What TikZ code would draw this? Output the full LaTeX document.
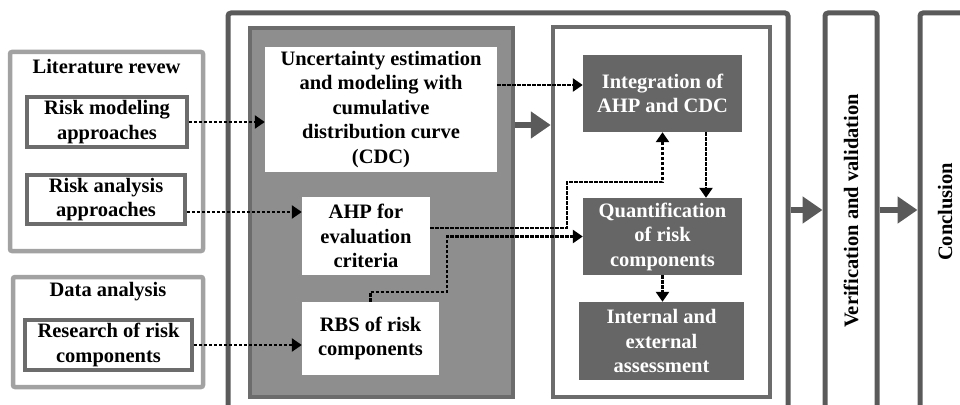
\documentclass[tikz,border=0pt]{standalone}
\usepackage{fontspec}
\setmainfont{Liberation Serif}
\usepackage{xcolor,tikz}
\usetikzlibrary{arrows.meta,positioning,calc}
\definecolor{frame}{HTML}{5A5A5A}
\definecolor{pale}{HTML}{A2A2A2}
\definecolor{edge}{HTML}{6C6C6C}
\definecolor{panel}{HTML}{8E8E8E}
\definecolor{slate}{HTML}{666666}
\tikzset{txt/.style={font=\fontsize{20.5}{24.5}\selectfont\bfseries,align=center,inner sep=0pt},
  group/.style={draw=pale,line width=4.5pt,rounded corners=2pt},
  box/.style={txt,draw=edge,line width=3.5pt,fill=white},
  plain/.style={txt,fill=white},
  dark/.style={txt,fill=slate,text=white},
  stage/.style={draw=frame,line width=5pt,rounded corners=3pt},
  dasharrow/.style={-{Triangle[length=10pt,width=13pt]},line width=2.6pt,dash pattern=on 3.5pt off 1.5pt},
  bigarrow/.style={-{Triangle[length=20pt,width=26pt]},line width=6pt,draw=frame,fill=frame}}
\begin{document}
\begin{tikzpicture}[x=1pt,y=-1pt]
\useasboundingbox (0,0) rectangle (960,404);
\node[group,minimum width=193,minimum height=199] (lit) at (106.5,151.5) {};
\node[txt] (littitle) at (106.5,67) {Literature revew};
\node[box,minimum width=160,minimum height=50] (riskmod) at (107,122) {Risk modeling\\approaches};
\node[box,minimum width=158,minimum height=49] (riskana) at (106,199.5) {Risk analysis\\approaches};
\node[group,minimum width=190,minimum height=110] (data) at (108,332) {};
\node[txt] (datatitle) at (108,292) {Data analysis};
\node[box,minimum width=167,minimum height=50] (research) at (108.5,345) {Research of risk\\components};

\node[stage,minimum width=560,minimum height=396] (study) at (508,211) {};
\node[draw=edge,fill=panel,line width=4.5pt,minimum width=263,minimum height=369] (panel) at (381.5,212.5) {};
\node[plain,minimum width=232,minimum height=125] (uncert) at (381,109.5) {Uncertainty estimation\\and modeling with\\cumulative\\distribution curve\\(CDC)};
\node[plain,minimum width=128,minimum height=78] (ahp) at (366,236) {AHP for\\evaluation\\criteria};
\node[plain,minimum width=137,minimum height=73] (rbs) at (370.5,338.5) {RBS of risk\\components};
\node[draw=edge,fill=white,line width=4.5pt,minimum width=217,minimum height=370] (result) at (661.5,212) {};
\node[dark,minimum width=159,minimum height=77] (integ) at (662.5,93.5) {Integration of\\AHP and CDC};
\node[dark,minimum width=159,minimum height=77] (quant) at (662.5,236.5) {Quantification\\of risk\\components};
\node[dark,minimum width=165,minimum height=78] (assess) at (661.5,341) {Internal and\\external\\assessment};

\node[stage,minimum width=52,minimum height=396] (verif) at (851,211) {};
\node[txt,rotate=90] (veriftext) at (851,211) {Verification and validation};
\node[stage,minimum width=50,minimum height=396] (concl) at (945,211) {};
\node[txt,rotate=90] (concltext) at (945,212) {Conclusion};

\draw[dasharrow] (riskmod.east) -- (riskmod.east -| uncert.west);
\draw[dasharrow] (riskana.east |- 0,212) -- (ahp.west |- 0,212);
\draw[dasharrow] (research.east) -- (research.east -| rbs.west);
\draw[dasharrow] (uncert.east |- 0,85) -- (integ.west |- 0,85);
\draw[dasharrow] (ahp.east |- 0,228) -| (567,182) -| (integ.south);
\draw[dasharrow] (rbs.north) |- (447,292) |- (quant.west);
\draw[dasharrow] (integ.south -| 706,0) -- (quant.north -| 706,0);
\draw[dasharrow] (quant.south) -- (quant.south |- assess.north);

\draw[bigarrow] (panel.east |- 0,125) -- (result.west |- 0,125);
\draw[bigarrow] (study.east |- 0,210) -- (verif.west |- 0,210);
\draw[bigarrow] (verif.east |- 0,210) -- (concl.west |- 0,210);
\end{tikzpicture}
\end{document}
